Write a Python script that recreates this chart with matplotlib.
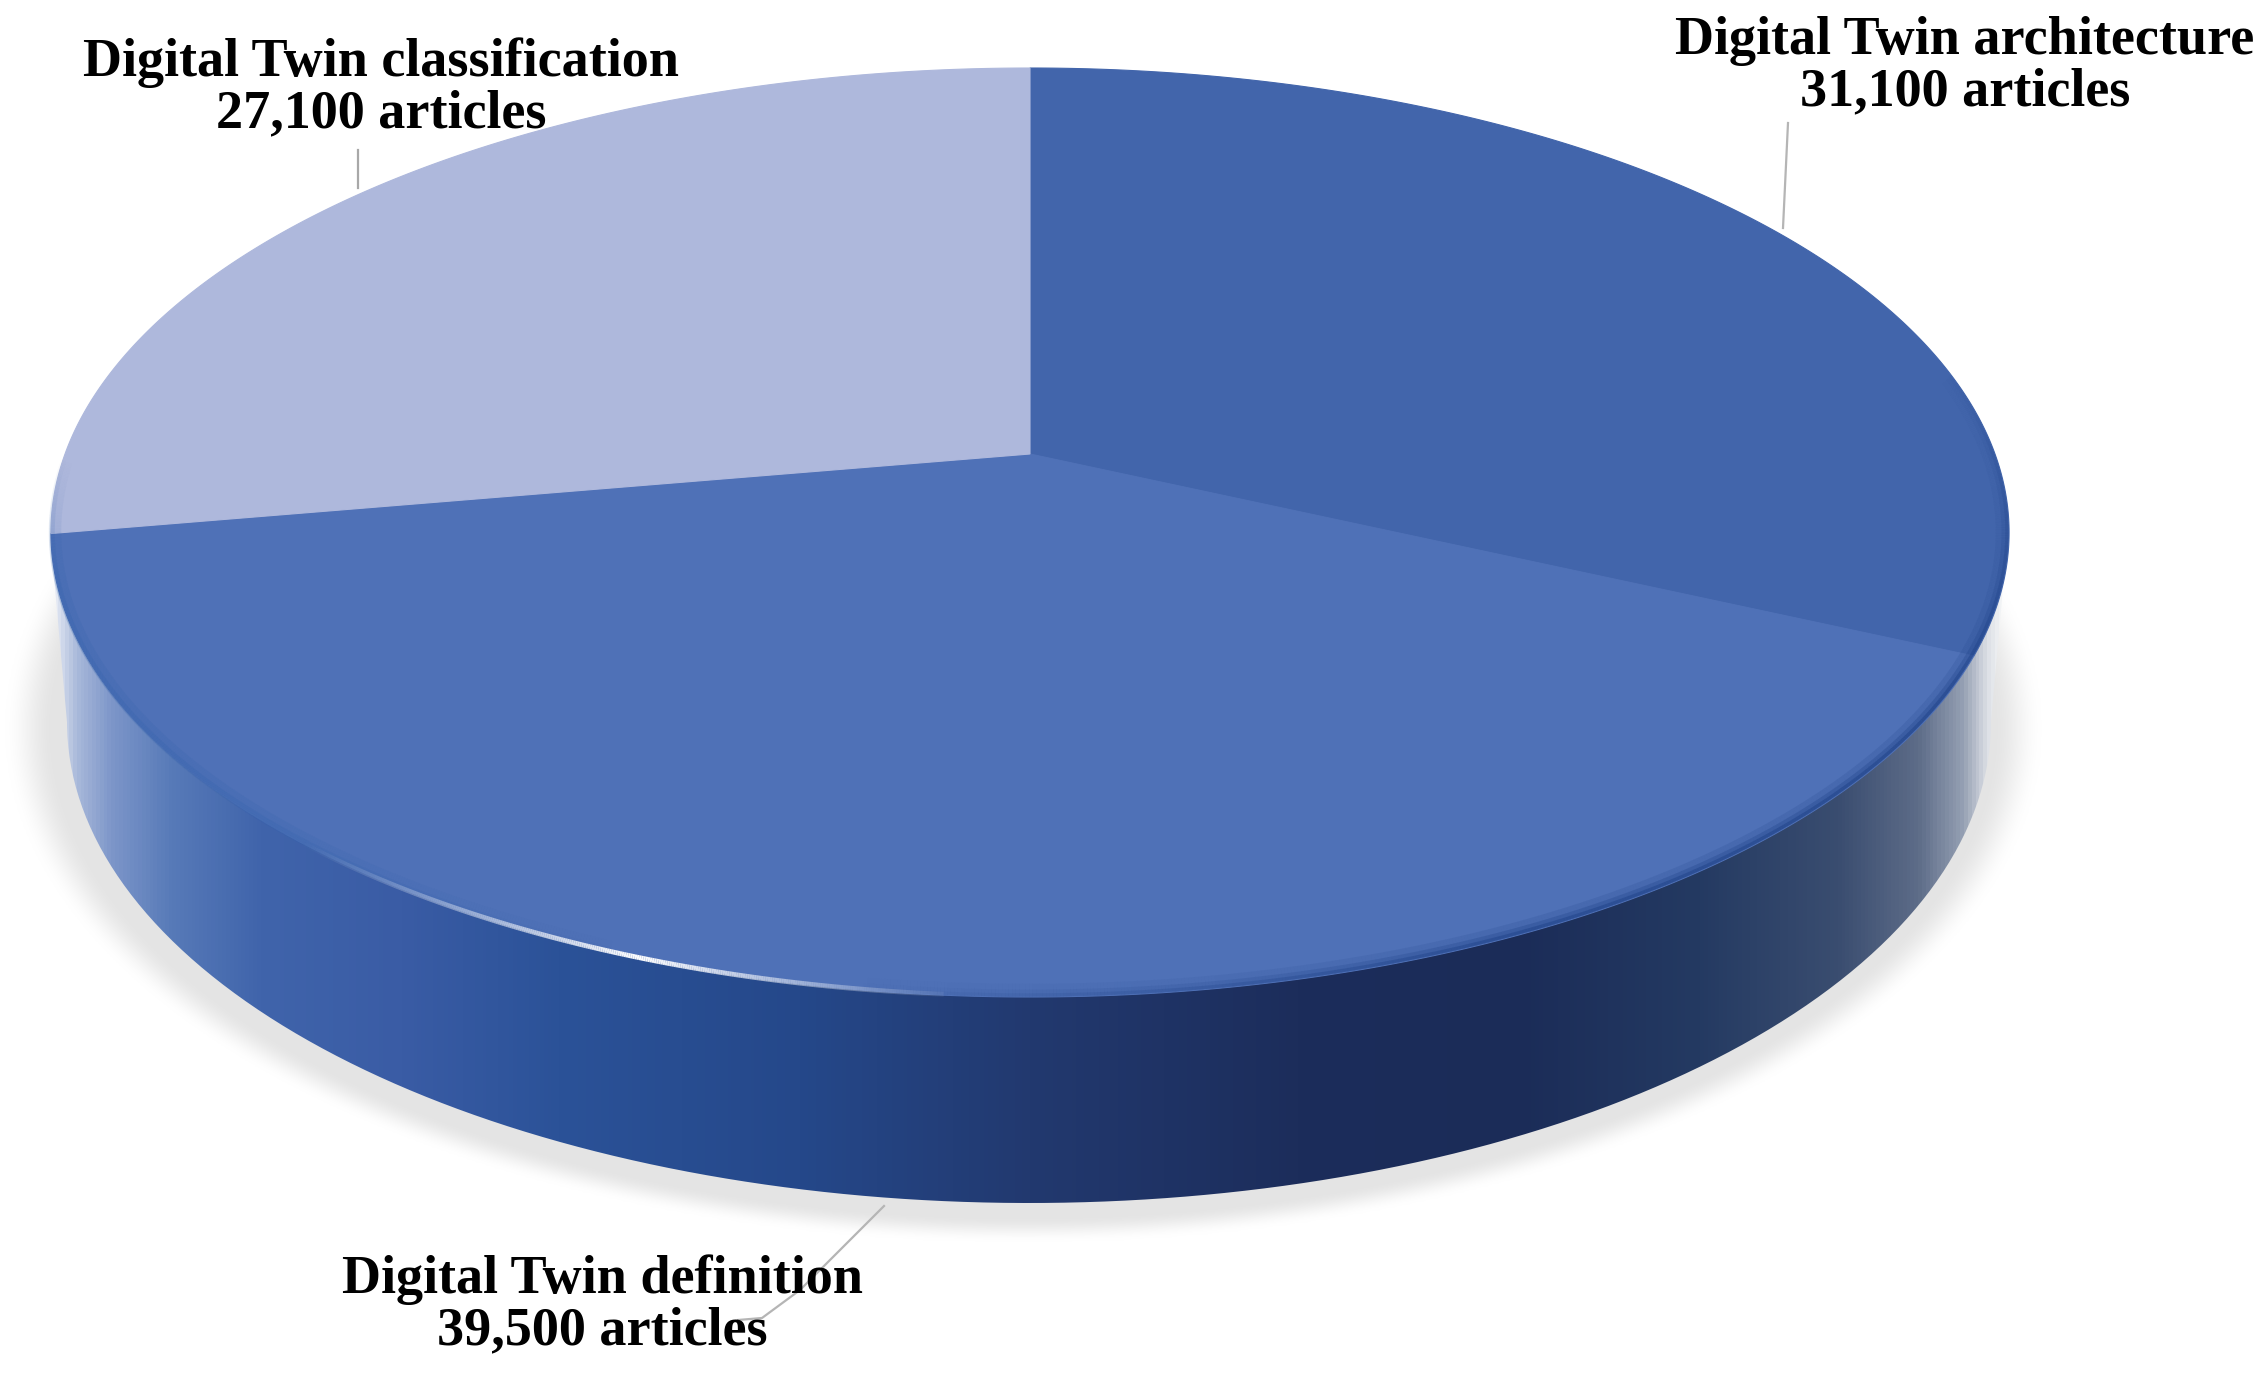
import numpy as np
import matplotlib
matplotlib.use("Agg")
import matplotlib.pyplot as plt
from matplotlib.colors import LinearSegmentedColormap, to_rgb
from matplotlib.collections import LineCollection
from matplotlib.patches import PathPatch
from matplotlib.path import Path

plt.rcParams['font.family'] = ['Liberation Serif', 'DejaVu Serif']

# data, clockwise from 12 o'clock
names = ["Digital Twin architecture", "Digital Twin definition", "Digital Twin classification"]
articles = [31100, 39500, 27100]
slice_colors = ["#4265ab", "#4f71b7", "#aeb8dc"]


# projection of the flat pie, unit circle -> picture pixels
def project(x, y):
    den = 1 + 0.169 * y
    return 1030 + 965 * x / den, (454 - 374.5 * y) / den


def ellipse(cx, cy, a, b, t):
    return cx + a * np.cos(t), cy + b * np.sin(t)


# line along an arc with its own colour/alpha for every piece
def arc_line(ax, px, py, color, alpha, lw, z):
    pts = np.column_stack([px, py]).reshape(-1, 1, 2)
    segs = np.concatenate([pts[:-1], pts[1:]], axis=1)
    cols = np.zeros((len(segs), 4))
    cols[:, :3] = to_rgb(color)
    cols[:, 3] = alpha
    ax.add_collection(LineCollection(segs, colors=cols, linewidths=lw, zorder=z, capstyle="butt"))


fig = plt.figure(figsize=(22.65, 13.84), dpi=100)
ax = fig.add_axes([0, 0, 1, 1])

# shadow under the disc
xx, yy = np.meshgrid(np.arange(0, 2265, 3), np.arange(0, 1384, 3))
d = np.sqrt(((xx - 1022) / 1020) ** 2 + ((yy - 728) / 515) ** 2)
fade = np.clip((1.0 - d) / 0.075, 0, 1)
fade = np.minimum(fade * 1.5, 1)
fade = fade * fade * (3 - 2 * fade)
shadow = np.zeros(xx.shape + (4,))
shadow[..., :3] = 0.895
shadow[..., 3] = fade
ax.imshow(shadow, extent=[0, 2265, 1384, 0], zorder=1, interpolation="bilinear")

# side wall with horizontal shading
t_low = np.linspace(0, np.pi, 300)
t_up = np.linspace(np.pi, 0, 300)
top_x, top_y = ellipse(1029, 532, 979, 464, t_up)
bot_x, bot_y = ellipse(1029, 722, 962, 481, t_low)
wall = Path(np.column_stack([np.r_[top_x, bot_x], np.r_[top_y, bot_y]]))

stops = [(50, "#eef1f8"), (75, "#a9b9da"), (110, "#7d96c9"), (170, "#577ab8"), (260, "#4064ab"),
         (400, "#3a5ca5"), (560, "#2b5298"), (800, "#25488a"), (1030, "#22396f"), (1300, "#1c2d5b"),
         (1520, "#1b2c58"), (1700, "#243a62"), (1840, "#3a4d70"), (1920, "#5d6c88"), (1965, "#95a0b3"),
         (1990, "#dde0e6"), (2010, "#ffffff")]
pos = [(s[0] - 50) / 1960 for s in stops]
wall_cmap = LinearSegmentedColormap.from_list("wall", list(zip(pos, [s[1] for s in stops])), N=512)
grad = np.linspace(0, 1, 512).reshape(1, -1)
im = ax.imshow(grad, cmap=wall_cmap, extent=[50, 2010, 1384, 0], aspect="auto", zorder=2)
patch = PathPatch(wall, facecolor="none", edgecolor="none", transform=ax.transData)
ax.add_patch(patch)
im.set_clip_path(patch)

# top face, one wedge per value
start = np.pi / 2
total = sum(articles)
for name, val, col in zip(names, articles, slice_colors):
    sweep = 2 * np.pi * val / total
    t = np.linspace(start, start - sweep, 300)
    px, py = project(np.r_[0, np.cos(t), 0], np.r_[0, np.sin(t), 0])
    ax.fill(px, py, color=col, linewidth=0.8, zorder=3)
    start -= sweep

# soft rim of the face, darker towards the lower right
deg = np.linspace(-20, 100, 600)
t_rim = np.radians(deg)
for inset, lw, strength in [(6, 9, 0.16), (3, 5, 0.3), (1, 2.5, 0.5)]:
    rx, ry = ellipse(1029, 532, 979 - inset, 464 - inset, t_rim)
    fall = np.clip((deg[:-1] + 20) / 40, 0, 1) * np.clip((100 - deg[:-1]) / 40, 0, 1)
    arc_line(ax, rx, ry, "#1f4288", strength * fall, lw, 4)

# same on the lower left, lighter blue
deg = np.linspace(115, 189, 400)
t_rim = np.radians(deg)
for inset, lw, strength in [(5, 9, 0.14), (2, 4, 0.2)]:
    rx, ry = ellipse(1029, 532, 979 - inset, 464 - inset, t_rim)
    fall = np.clip((deg[:-1] - 115) / 25, 0, 1) * np.clip((189 - deg[:-1]) / 15, 0, 1)
    arc_line(ax, rx, ry, "#2f62ad", strength * fall, lw, 4)

# white glint along the front edge
t_hi = np.radians(np.linspace(95, 150, 400))
hx, hy = ellipse(1029, 532, 979, 464, t_hi)
arc_line(ax, hx, hy, "#ffffff", np.clip(1 - np.abs(hx[:-1] - 640) / 340, 0, 1) ** 1.2, 3.5, 5)

# leader lines
ax.plot([1788, 1783], [123, 228], color="#b5b5b5", lw=1.6, zorder=6)
ax.plot([358, 358], [150, 188], color="#a8a8a8", lw=1.6, zorder=6)
ax.plot([884, 800, 762, 738], [1206, 1290, 1318, 1320], color="#b5b5b5", lw=1.6, zorder=6)

# labels
label_x = [1965, 602, 381]
label_y = [67, 1305, 88]
for name, val, lx, ly in zip(names, articles, label_x, label_y):
    ax.text(lx, ly, f"{name}\n{val:,} articles", ha="center", va="center", fontsize=39,
            fontweight="bold", color="black", linespacing=1.03, zorder=7)

ax.set_xlim(0, 2265)
ax.set_ylim(1384, 0)
ax.set_aspect("auto")
ax.axis("off")

fig.savefig("out.png", dpi=100, facecolor="white")
